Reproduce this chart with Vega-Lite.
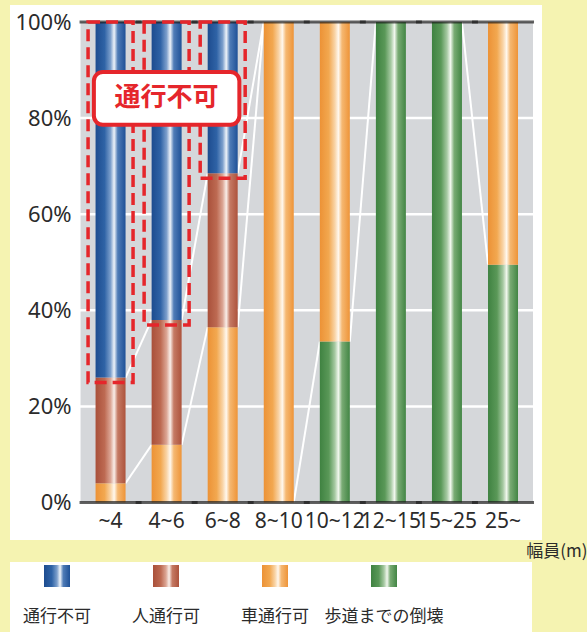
{
  "$schema": "https://vega.github.io/schema/vega-lite/v6.json",
  "background": "#f5f3b1",
  "padding": {"left": 8, "top": 5, "right": 0, "bottom": 0},
  "autosize": {"type": "pad"},
  "config": {"view": {"stroke": null}, "font": "Noto Sans"},
  "datasets": {
    "cats": [{"cat": "~4"}, {"cat": "4~6"}, {"cat": "6~8"}, {"cat": "8~10"}, {"cat": "10~12"}, {"cat": "12~15"}, {"cat": "15~25"}, {"cat": "25~"}],
    "shares": [
      {"cat": "~4", "series": "車通行可", "ord": 2, "value": 4},
      {"cat": "~4", "series": "人通行可", "ord": 3, "value": 22},
      {"cat": "~4", "series": "通行不可", "ord": 4, "value": 74},
      {"cat": "4~6", "series": "車通行可", "ord": 2, "value": 12},
      {"cat": "4~6", "series": "人通行可", "ord": 3, "value": 26},
      {"cat": "4~6", "series": "通行不可", "ord": 4, "value": 62},
      {"cat": "6~8", "series": "車通行可", "ord": 2, "value": 36.5},
      {"cat": "6~8", "series": "人通行可", "ord": 3, "value": 32},
      {"cat": "6~8", "series": "通行不可", "ord": 4, "value": 31.5},
      {"cat": "8~10", "series": "車通行可", "ord": 2, "value": 100},
      {"cat": "10~12", "series": "歩道までの倒壊", "ord": 1, "value": 33.5},
      {"cat": "10~12", "series": "車通行可", "ord": 2, "value": 66.5},
      {"cat": "12~15", "series": "歩道までの倒壊", "ord": 1, "value": 100},
      {"cat": "15~25", "series": "歩道までの倒壊", "ord": 1, "value": 100},
      {"cat": "25~", "series": "歩道までの倒壊", "ord": 1, "value": 49.5},
      {"cat": "25~", "series": "車通行可", "ord": 2, "value": 50.5}
    ],
    "links": [
      {"from": "~4", "to": "4~6", "a": 4, "b": 12},
      {"from": "~4", "to": "4~6", "a": 26, "b": 38},
      {"from": "4~6", "to": "6~8", "a": 12, "b": 36.5},
      {"from": "4~6", "to": "6~8", "a": 38, "b": 68.5},
      {"from": "6~8", "to": "8~10", "a": 36.5, "b": 100},
      {"from": "6~8", "to": "8~10", "a": 68.5, "b": 100},
      {"from": "8~10", "to": "10~12", "a": 0, "b": 33.5},
      {"from": "10~12", "to": "12~15", "a": 33.5, "b": 100},
      {"from": "15~25", "to": "25~", "a": 100, "b": 49.5}
    ],
    "series": [{"series": "通行不可"}, {"series": "人通行可"}, {"series": "車通行可"}, {"series": "歩道までの倒壊"}]
  },
  "bounds": "flush",
  "spacing": 22,
  "vconcat": [
    {
      "width": 532,
      "height": 535,
      "view": {"fill": "white", "stroke": null},
      "layer": [
        {
          "data": {"name": "cats"},
          "mark": {"type": "bar", "color": "#d5d7da", "width": {"band": 2}},
          "encoding": {
            "x": {
              "field": "cat", "type": "nominal",
              "scale": {"domain": ["~4", "4~6", "6~8", "8~10", "10~12", "12~15", "15~25", "25~"], "paddingInner": 0.465, "paddingOuter": 0.977, "align": 0.781},
              "axis": {"orient": "bottom", "offset": -30, "title": "幅員(m)", "labelFontSize": 21, "labelColor": "#2b2b2b", "labelFont": "Noto Sans", "labelAngle": 0, "labelPadding": 0, "labelOverlap": false, "labelBound": false, "labelFlush": false, "ticks": false, "domain": false, "grid": false, "zindex": 1, "titleFont": "Noto Sans CJK JP", "titleFontSize": 17, "titleFontWeight": "normal", "titleColor": "#2b2b2b", "titleAlign": "right", "titleAnchor": null, "titleX": 577, "titleY": 41, "titleBaseline": "middle"}
            },
            "y": {
              "datum": 0, "type": "quantitative",
              "scale": {"domain": [-7.8, 103.54], "nice": false, "zero": false},
              "axis": {"orient": "left", "offset": -61, "values": [0, 20, 40, 60, 80, 100], "labelExpr": "datum.value + '%'", "labelFontSize": 22, "labelColor": "#2b2b2b", "labelFont": "Noto Sans", "labelPadding": 0, "ticks": false, "domain": false, "grid": false, "zindex": 1, "title": null}
            },
            "y2": {"datum": 100}
          }
        },
        {
          "data": {"values": [{"g": 20}, {"g": 40}, {"g": 60}, {"g": 80}]},
          "mark": {"type": "rule", "color": "white", "strokeWidth": 2.5},
          "encoding": {"y": {"field": "g", "type": "quantitative"}}
        },
        {
          "data": {"name": "links"},
          "mark": {"type": "rule", "color": "white", "strokeWidth": 2},
          "encoding": {
            "x": {"field": "from", "type": "nominal", "bandPosition": 1},
            "x2": {"field": "to", "bandPosition": 0},
            "y": {"field": "a", "type": "quantitative"},
            "y2": {"field": "b"}
          }
        },
        {
          "data": {"name": "shares"},
          "transform": [{"stack": "value", "groupby": ["cat"], "sort": [{"field": "ord", "order": "ascending"}], "as": ["v0", "v1"]}],
          "mark": {"type": "bar"},
          "encoding": {
            "x": {"field": "cat", "type": "nominal"},
            "y": {"field": "v1", "type": "quantitative"},
            "y2": {"field": "v0"},
            "fill": {
              "condition": [
                {"test": "datum.series === '通行不可'", "value": {"gradient": "linear", "x1": 0, "y1": 0, "x2": 1, "y2": 0, "stops": [{"offset": 0, "color": "#1d4c8f"}, {"offset": 0.3, "color": "#2f63a6"}, {"offset": 0.5, "color": "#7c9fcc"}, {"offset": 0.62, "color": "#eef3f9"}, {"offset": 0.74, "color": "#4f7cb7"}, {"offset": 1, "color": "#1f5197"}]}},
                {"test": "datum.series === '人通行可'", "value": {"gradient": "linear", "x1": 0, "y1": 0, "x2": 1, "y2": 0, "stops": [{"offset": 0, "color": "#a9503a"}, {"offset": 0.3, "color": "#bd6a52"}, {"offset": 0.5, "color": "#dca695"}, {"offset": 0.62, "color": "#f9eee9"}, {"offset": 0.74, "color": "#c57a64"}, {"offset": 1, "color": "#ad533c"}]}},
                {"test": "datum.series === '車通行可'", "value": {"gradient": "linear", "x1": 0, "y1": 0, "x2": 1, "y2": 0, "stops": [{"offset": 0, "color": "#ec9236"}, {"offset": 0.3, "color": "#f2a850"}, {"offset": 0.5, "color": "#f9d4a6"}, {"offset": 0.62, "color": "#fff8ee"}, {"offset": 0.74, "color": "#f5b872"}, {"offset": 1, "color": "#ee9438"}]}}
              ],
              "value": {"gradient": "linear", "x1": 0, "y1": 0, "x2": 1, "y2": 0, "stops": [{"offset": 0, "color": "#3f8241"}, {"offset": 0.3, "color": "#5a9858"}, {"offset": 0.5, "color": "#a6c9a2"}, {"offset": 0.62, "color": "#f1f7ee"}, {"offset": 0.74, "color": "#79ab74"}, {"offset": 1, "color": "#428544"}]}
            }
          }
        },
        {
          "data": {"name": "cats"},
          "mark": {"type": "tick", "orient": "horizontal", "size": 62, "thickness": 3, "color": "#1e1e1e"},
          "encoding": {"x": {"field": "cat", "type": "nominal"}, "y": {"datum": 0, "type": "quantitative"}}
        },
        {
          "data": {"name": "cats"},
          "mark": {"type": "tick", "orient": "horizontal", "size": 62, "thickness": 3, "color": "#1e1e1e"},
          "encoding": {"x": {"field": "cat", "type": "nominal"}, "y": {"datum": 100, "type": "quantitative"}}
        },
        {
          "data": {"name": "shares"},
          "transform": [
            {"stack": "value", "groupby": ["cat"], "sort": [{"field": "ord", "order": "ascending"}], "as": ["v0", "v1"]},
            {"filter": "datum.series === '通行不可'"}
          ],
          "mark": {"type": "bar", "width": {"band": 1.5}, "fill": "transparent", "stroke": "#e5262b", "strokeWidth": 3.5, "strokeDash": [12, 6], "y2Offset": 5},
          "encoding": {
            "x": {"field": "cat", "type": "nominal"},
            "y": {"field": "v1", "type": "quantitative"},
            "y2": {"field": "v0"}
          }
        },
        {
          "data": {"values": [{"cat": "4~6", "label": "通行不可"}]},
          "mark": {"type": "bar", "width": {"band": 4.85}, "fill": "white", "stroke": "#e5262b", "strokeWidth": 4, "cornerRadius": 9},
          "encoding": {
            "x": {"field": "cat", "type": "nominal"},
            "y": {"datum": 89.6, "type": "quantitative"},
            "y2": {"datum": 78.6}
          }
        },
        {
          "data": {"values": [{"cat": "4~6", "label": "通行不可"}]},
          "mark": {"type": "text", "font": "Noto Sans CJK JP", "fontSize": 26, "fontWeight": "bold", "color": "#e5262b"},
          "encoding": {
            "x": {"field": "cat", "type": "nominal"},
            "y": {"datum": 84.1, "type": "quantitative"},
            "text": {"field": "label"}
          }
        }
      ]
    },
    {
      "width": 522,
      "height": 70,
      "view": {"fill": "white", "stroke": null},
      "data": {"name": "series"},
      "encoding": {
        "x": {"field": "series", "type": "nominal", "sort": null, "scale": {"type": "point", "range": [47, 374], "padding": 0}, "axis": null}
      },
      "layer": [
        {
          "mark": {"type": "bar", "width": 26},
          "encoding": {
            "y": {"datum": 0.957, "type": "quantitative", "scale": {"domain": [0, 1], "nice": false, "zero": false}, "axis": null},
            "y2": {"datum": 0.643},
            "fill": {
              "condition": [
                {"test": "datum.series === '通行不可'", "value": {"gradient": "linear", "x1": 0, "y1": 0, "x2": 1, "y2": 0, "stops": [{"offset": 0, "color": "#1d4c8f"}, {"offset": 0.3, "color": "#2f63a6"}, {"offset": 0.5, "color": "#7c9fcc"}, {"offset": 0.62, "color": "#eef3f9"}, {"offset": 0.74, "color": "#4f7cb7"}, {"offset": 1, "color": "#1f5197"}]}},
                {"test": "datum.series === '人通行可'", "value": {"gradient": "linear", "x1": 0, "y1": 0, "x2": 1, "y2": 0, "stops": [{"offset": 0, "color": "#a9503a"}, {"offset": 0.3, "color": "#bd6a52"}, {"offset": 0.5, "color": "#dca695"}, {"offset": 0.62, "color": "#f9eee9"}, {"offset": 0.74, "color": "#c57a64"}, {"offset": 1, "color": "#ad533c"}]}},
                {"test": "datum.series === '車通行可'", "value": {"gradient": "linear", "x1": 0, "y1": 0, "x2": 1, "y2": 0, "stops": [{"offset": 0, "color": "#ec9236"}, {"offset": 0.3, "color": "#f2a850"}, {"offset": 0.5, "color": "#f9d4a6"}, {"offset": 0.62, "color": "#fff8ee"}, {"offset": 0.74, "color": "#f5b872"}, {"offset": 1, "color": "#ee9438"}]}}
              ],
              "value": {"gradient": "linear", "x1": 0, "y1": 0, "x2": 1, "y2": 0, "stops": [{"offset": 0, "color": "#3f8241"}, {"offset": 0.3, "color": "#5a9858"}, {"offset": 0.5, "color": "#a6c9a2"}, {"offset": 0.62, "color": "#f1f7ee"}, {"offset": 0.74, "color": "#79ab74"}, {"offset": 1, "color": "#428544"}]}
            }
          }
        },
        {
          "mark": {"type": "text", "font": "Noto Sans CJK JP", "fontSize": 17, "color": "#2b2b2b"},
          "encoding": {
            "y": {"datum": 0.214, "type": "quantitative"},
            "text": {"field": "series"}
          }
        }
      ]
    }
  ]
}
